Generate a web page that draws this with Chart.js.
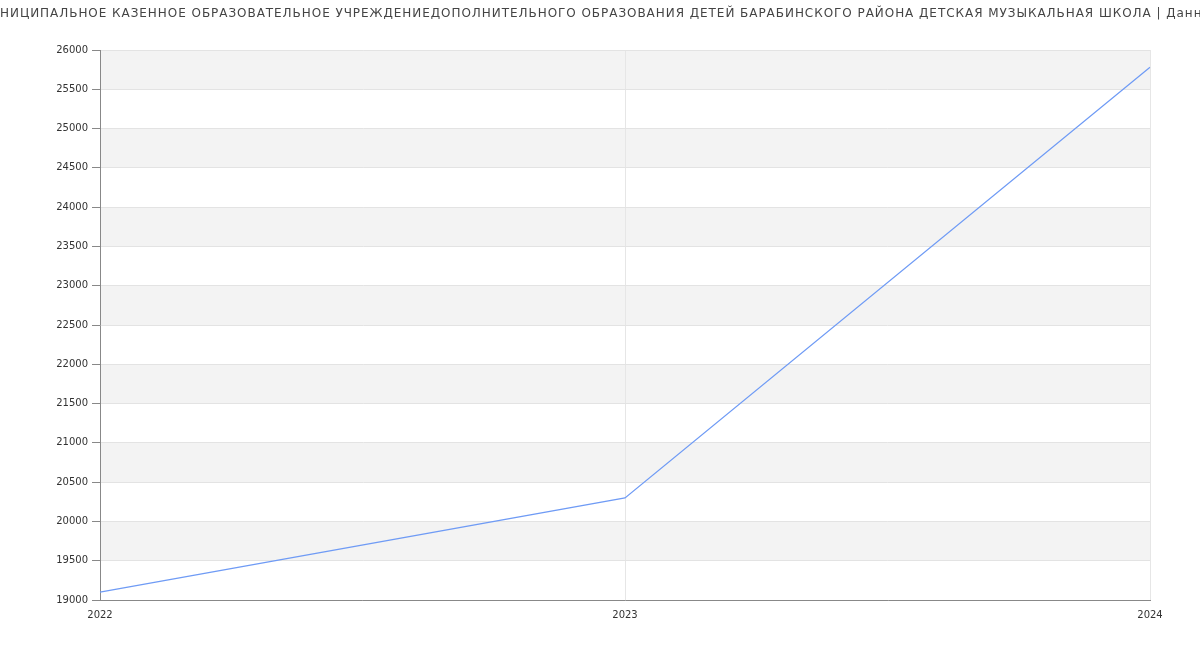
<!DOCTYPE html>
<html>
<head>
<meta charset="utf-8">
<script src="https://cdn.jsdelivr.net/npm/chart.js@4/dist/chart.umd.min.js"></script>
<style>
html,body{margin:0;padding:0;background:#fff;}
#wrap{width:1200px;height:650px;}
</style>
</head>
<body>
<div id="wrap"><canvas id="c" width="1200" height="650"></canvas></div>
<script>
const titleText = "МУНИЦИПАЛЬНОЕ КАЗЕННОЕ ОБРАЗОВАТЕЛЬНОЕ УЧРЕЖДЕНИЕДОПОЛНИТЕЛЬНОГО ОБРАЗОВАНИЯ ДЕТЕЙ БАРАБИНСКОГО РАЙОНА ДЕТСКАЯ МУЗЫКАЛЬНАЯ ШКОЛА | Данные";
const titleHiddenPrefix = "МУ";
const years = ["2022", "2023", "2024"];
const salary = [19100, 20300, 25780];
const yMin = 19000, yMax = 26000, yStep = 500;

const bands = {
  id: 'bands',
  beforeDraw(chart) {
    const {ctx, chartArea, scales} = chart;
    const y = scales.y;
    ctx.save();
    ctx.fillStyle = '#f3f3f3';
    for (let v = yMin + yStep; v < yMax; v += 2 * yStep) {
      const top = y.getPixelForValue(v + yStep);
      const bot = y.getPixelForValue(v);
      ctx.fillRect(chartArea.left, top, chartArea.right - chartArea.left, bot - top);
    }
    ctx.restore();
  }
};

const titlePlugin = {
  id: 'wideTitle',
  afterDraw(chart) {
    const ctx = chart.ctx;
    ctx.save();
    ctx.font = '12px "DejaVu Sans"';
    ctx.letterSpacing = '0.95px';
    ctx.fillStyle = '#444';
    ctx.textBaseline = 'middle';
    ctx.textAlign = 'left';
    const pre = ctx.measureText(titleHiddenPrefix).width;
    ctx.fillText(titleText, -pre, 14);
    ctx.restore();
  }
};

new Chart(document.getElementById('c'), {
  type: 'line',
  data: {
    labels: years,
    datasets: [{
      data: salary,
      borderColor: '#6f9bf5',
      borderWidth: 1.2,
      pointRadius: 0,
      fill: false,
      tension: 0
    }]
  },
  plugins: [bands, titlePlugin],
  options: {
    responsive: false,
    animation: false,
    layout: {padding: {left: 0, right: 50, top: 50, bottom: 0}},
    plugins: {
      legend: {display: false},
      tooltip: {enabled: false},
      title: {display: false}
    },
    scales: {
      x: {
        type: 'category',
        offset: false,
        afterFit(s) { s.height = 50; },
        grid: {color: '#e6e6e6', drawTicks: false},
        border: {color: '#888', width: 1},
        ticks: {color: '#333', font: {family: 'DejaVu Sans', size: 10}, padding: 9, maxRotation: 0}
      },
      y: {
        min: yMin, max: yMax,
        afterFit(s) { s.width = 100; },
        grid: {color: '#e3e3e3', tickLength: 8, tickColor: '#888'},
        border: {color: '#888', width: 1},
        ticks: {stepSize: yStep, color: '#333', font: {family: 'DejaVu Sans', size: 10}, padding: 4,
          callback: v => String(v)}
      }
    }
  }
});
</script>
</body>
</html>
